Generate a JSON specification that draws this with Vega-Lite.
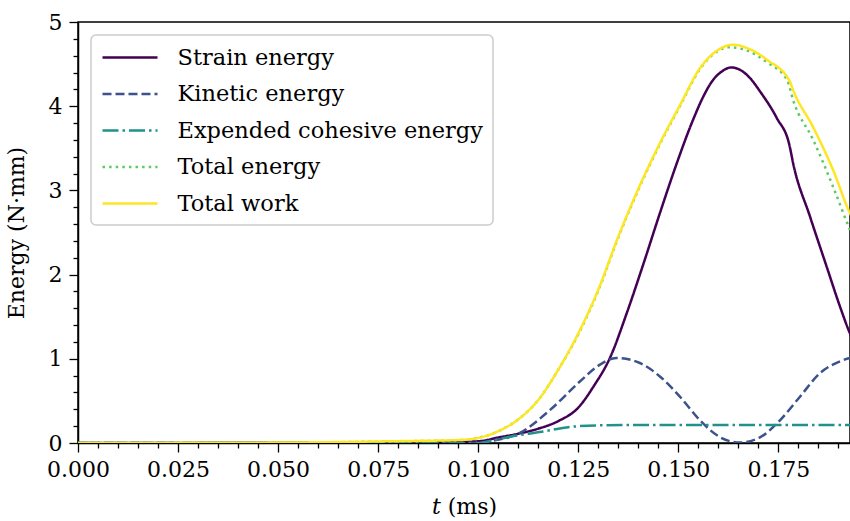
{
  "$schema": "https://vega.github.io/schema/vega-lite/v6.json",
  "width": 772,
  "height": 421,
  "autosize": {"type": "none"},
  "padding": {"left": 78, "top": 22, "right": 0, "bottom": 78},
  "background": "white",
  "config": {
    "view": {"stroke": "black", "strokeWidth": 1.5},
    "font": "DejaVu Serif",
    "legend": {"strokeWidth": 1.5, "strokeColor": "#cccccc", "cornerRadius": 5, "fillColor": "white", "padding": 10},
    "axis": {
      "grid": false,
      "domainColor": "black",
      "domainWidth": 1.5,
      "tickColor": "black",
      "tickWidth": 1.3,
      "labelFont": "DejaVu Serif",
      "labelFontSize": 22,
      "labelColor": "black",
      "titleFont": "DejaVu Serif",
      "titleFontSize": 22,
      "titleFontWeight": "normal",
      "titleColor": "black"
    }
  },
  "data": {
    "values": [
      {"t": 0, "E": 0, "series": "Strain energy"},
      {"t": 0.05, "E": 0.003, "series": "Strain energy"},
      {"t": 0.09, "E": 0.008, "series": "Strain energy"},
      {"t": 0.1, "E": 0.02, "series": "Strain energy"},
      {"t": 0.105, "E": 0.065, "series": "Strain energy"},
      {"t": 0.11, "E": 0.11, "series": "Strain energy"},
      {"t": 0.115, "E": 0.17, "series": "Strain energy"},
      {"t": 0.12, "E": 0.26, "series": "Strain energy"},
      {"t": 0.125, "E": 0.42, "series": "Strain energy"},
      {"t": 0.1288, "E": 0.67, "series": "Strain energy"},
      {"t": 0.133, "E": 1.02, "series": "Strain energy"},
      {"t": 0.1371, "E": 1.54, "series": "Strain energy"},
      {"t": 0.1413, "E": 2.13, "series": "Strain energy"},
      {"t": 0.1454, "E": 2.73, "series": "Strain energy"},
      {"t": 0.1496, "E": 3.32, "series": "Strain energy"},
      {"t": 0.1537, "E": 3.84, "series": "Strain energy"},
      {"t": 0.1562, "E": 4.11, "series": "Strain energy"},
      {"t": 0.1585, "E": 4.3, "series": "Strain energy"},
      {"t": 0.1608, "E": 4.41, "series": "Strain energy"},
      {"t": 0.1632, "E": 4.46, "series": "Strain energy"},
      {"t": 0.1655, "E": 4.43, "series": "Strain energy"},
      {"t": 0.1678, "E": 4.34, "series": "Strain energy"},
      {"t": 0.1705, "E": 4.17, "series": "Strain energy"},
      {"t": 0.1746, "E": 3.86, "series": "Strain energy"},
      {"t": 0.1778, "E": 3.53, "series": "Strain energy"},
      {"t": 0.1787, "E": 3.32, "series": "Strain energy"},
      {"t": 0.1829, "E": 2.69, "series": "Strain energy"},
      {"t": 0.1871, "E": 2.09, "series": "Strain energy"},
      {"t": 0.1904, "E": 1.62, "series": "Strain energy"},
      {"t": 0.1929, "E": 1.3, "series": "Strain energy"},
      {"t": 0.196, "E": 1.0, "series": "Strain energy"},

      {"t": 0, "E": 0, "series": "Kinetic energy"},
      {"t": 0.1, "E": 0, "series": "Kinetic energy"},
      {"t": 0.1029, "E": 0.02, "series": "Kinetic energy"},
      {"t": 0.1104, "E": 0.12, "series": "Kinetic energy"},
      {"t": 0.1179, "E": 0.39, "series": "Kinetic energy"},
      {"t": 0.1254, "E": 0.73, "series": "Kinetic energy"},
      {"t": 0.1304, "E": 0.93, "series": "Kinetic energy"},
      {"t": 0.1345, "E": 1.01, "series": "Kinetic energy"},
      {"t": 0.1404, "E": 0.95, "series": "Kinetic energy"},
      {"t": 0.1454, "E": 0.79, "series": "Kinetic energy"},
      {"t": 0.1504, "E": 0.55, "series": "Kinetic energy"},
      {"t": 0.1554, "E": 0.27, "series": "Kinetic energy"},
      {"t": 0.1604, "E": 0.07, "series": "Kinetic energy"},
      {"t": 0.1654, "E": 0.005, "series": "Kinetic energy"},
      {"t": 0.1705, "E": 0.07, "series": "Kinetic energy"},
      {"t": 0.1754, "E": 0.27, "series": "Kinetic energy"},
      {"t": 0.1804, "E": 0.55, "series": "Kinetic energy"},
      {"t": 0.1854, "E": 0.83, "series": "Kinetic energy"},
      {"t": 0.1904, "E": 0.97, "series": "Kinetic energy"},
      {"t": 0.1929, "E": 1.01, "series": "Kinetic energy"},
      {"t": 0.196, "E": 1.03, "series": "Kinetic energy"},

      {"t": 0, "E": 0, "series": "Expended cohesive energy"},
      {"t": 0.1, "E": 0, "series": "Expended cohesive energy"},
      {"t": 0.104, "E": 0.035, "series": "Expended cohesive energy"},
      {"t": 0.108, "E": 0.075, "series": "Expended cohesive energy"},
      {"t": 0.1154, "E": 0.13, "series": "Expended cohesive energy"},
      {"t": 0.1229, "E": 0.19, "series": "Expended cohesive energy"},
      {"t": 0.1304, "E": 0.21, "series": "Expended cohesive energy"},
      {"t": 0.14, "E": 0.215, "series": "Expended cohesive energy"},
      {"t": 0.196, "E": 0.215, "series": "Expended cohesive energy"},

      {"t": 0, "E": 0, "series": "Total energy"},
      {"t": 0.05, "E": 0.004, "series": "Total energy"},
      {"t": 0.08, "E": 0.02, "series": "Total energy"},
      {"t": 0.095, "E": 0.033, "series": "Total energy"},
      {"t": 0.1, "E": 0.06, "series": "Total energy"},
      {"t": 0.105, "E": 0.14, "series": "Total energy"},
      {"t": 0.11, "E": 0.28, "series": "Total energy"},
      {"t": 0.115, "E": 0.51, "series": "Total energy"},
      {"t": 0.12, "E": 0.87, "series": "Total energy"},
      {"t": 0.125, "E": 1.29, "series": "Total energy"},
      {"t": 0.13, "E": 1.81, "series": "Total energy"},
      {"t": 0.135, "E": 2.44, "series": "Total energy"},
      {"t": 0.1404, "E": 3.05, "series": "Total energy"},
      {"t": 0.1454, "E": 3.55, "series": "Total energy"},
      {"t": 0.1504, "E": 4.0, "series": "Total energy"},
      {"t": 0.1554, "E": 4.44, "series": "Total energy"},
      {"t": 0.16, "E": 4.66, "series": "Total energy"},
      {"t": 0.1625, "E": 4.7, "series": "Total energy"},
      {"t": 0.1672, "E": 4.66, "series": "Total energy"},
      {"t": 0.1722, "E": 4.52, "series": "Total energy"},
      {"t": 0.1772, "E": 4.31, "series": "Total energy"},
      {"t": 0.1787, "E": 4.07, "series": "Total energy"},
      {"t": 0.1837, "E": 3.6, "series": "Total energy"},
      {"t": 0.1887, "E": 3.04, "series": "Total energy"},
      {"t": 0.1929, "E": 2.53, "series": "Total energy"},
      {"t": 0.196, "E": 2.2, "series": "Total energy"},

      {"t": 0, "E": 0, "series": "Total work"},
      {"t": 0.05, "E": 0.005, "series": "Total work"},
      {"t": 0.08, "E": 0.022, "series": "Total work"},
      {"t": 0.095, "E": 0.035, "series": "Total work"},
      {"t": 0.1, "E": 0.06, "series": "Total work"},
      {"t": 0.105, "E": 0.14, "series": "Total work"},
      {"t": 0.11, "E": 0.28, "series": "Total work"},
      {"t": 0.115, "E": 0.51, "series": "Total work"},
      {"t": 0.12, "E": 0.87, "series": "Total work"},
      {"t": 0.125, "E": 1.3, "series": "Total work"},
      {"t": 0.13, "E": 1.82, "series": "Total work"},
      {"t": 0.135, "E": 2.45, "series": "Total work"},
      {"t": 0.1404, "E": 3.06, "series": "Total work"},
      {"t": 0.1454, "E": 3.56, "series": "Total work"},
      {"t": 0.1504, "E": 4.01, "series": "Total work"},
      {"t": 0.1554, "E": 4.45, "series": "Total work"},
      {"t": 0.16, "E": 4.67, "series": "Total work"},
      {"t": 0.1637, "E": 4.73, "series": "Total work"},
      {"t": 0.1672, "E": 4.69, "series": "Total work"},
      {"t": 0.1722, "E": 4.55, "series": "Total work"},
      {"t": 0.1779, "E": 4.29, "series": "Total work"},
      {"t": 0.1787, "E": 4.19, "series": "Total work"},
      {"t": 0.1837, "E": 3.75, "series": "Total work"},
      {"t": 0.1887, "E": 3.24, "series": "Total work"},
      {"t": 0.1929, "E": 2.73, "series": "Total work"},
      {"t": 0.196, "E": 2.5, "series": "Total work"}
    ]
  },
  "mark": {"type": "line", "strokeWidth": 2.5, "clip": true, "interpolate": "monotone"},
  "encoding": {
    "x": {
      "field": "t",
      "type": "quantitative",
      "scale": {"domain": [0, 0.1929], "nice": false, "zero": false},
      "axis": {
        "title": "𝑡 (ms)",
        "titlePadding": 16,
        "values": [0, 0.005, 0.01, 0.015, 0.02, 0.025, 0.03, 0.035, 0.04, 0.045, 0.05, 0.055, 0.06, 0.065, 0.07, 0.075, 0.08, 0.085, 0.09, 0.095, 0.1, 0.105, 0.11, 0.115, 0.12, 0.125, 0.13, 0.135, 0.14, 0.145, 0.15, 0.155, 0.16, 0.165, 0.17, 0.175, 0.18, 0.185, 0.19],
        "labelExpr": "abs(datum.value*40 - round(datum.value*40)) < 0.000001 ? format(datum.value, '.3f') : ''",
        "tickSize": {"condition": {"test": "abs(datum.value*40 - round(datum.value*40)) < 0.000001", "value": 9}, "value": 5},
        "labelPadding": 7,
        "labelFlush": false,
        "labelOverlap": false
      }
    },
    "y": {
      "field": "E",
      "type": "quantitative",
      "scale": {"domain": [0, 5], "nice": false},
      "axis": {
        "title": "Energy (N·mm)",
        "titlePadding": 20,
        "values": [0, 0.2, 0.4, 0.6, 0.8, 1, 1.2, 1.4, 1.6, 1.8, 2, 2.2, 2.4, 2.6, 2.8, 3, 3.2, 3.4, 3.6, 3.8, 4, 4.2, 4.4, 4.6, 4.8, 5],
        "labelExpr": "abs(datum.value - round(datum.value)) < 0.000001 ? format(datum.value, 'd') : ''",
        "tickSize": {"condition": {"test": "abs(datum.value - round(datum.value)) < 0.000001", "value": 9}, "value": 5},
        "labelPadding": 7,
        "labelOverlap": false
      }
    },
    "color": {
      "field": "series",
      "type": "nominal",
      "scale": {
        "domain": ["Strain energy", "Kinetic energy", "Expended cohesive energy", "Total energy", "Total work"],
        "range": ["#440154", "#3b528b", "#21918c", "#5ec962", "#fde725"]
      },
      "legend": {
        "title": null,
        "orient": "none",
        "legendX": 13,
        "legendY": 13,
        "symbolType": "M-2.5,0L2.5,0",
        "symbolSize": 484,
        "symbolOffset": 16.5,
        "symbolStrokeWidth": 2.5,
        "labelFont": "DejaVu Serif",
        "labelFontSize": 22.5,
        "labelColor": "black",
        "labelOffset": 35,
        "labelLimit": 400,
        "rowPadding": 12.5
      }
    },
    "strokeDash": {
      "field": "series",
      "type": "nominal",
      "scale": {
        "domain": ["Strain energy", "Kinetic energy", "Expended cohesive energy", "Total energy", "Total work"],
        "range": [[1, 0], [9, 4], [16, 4, 2.5, 4], [2.5, 4.1], [1, 0]]
      },
      "legend": null
    }
  }
}
